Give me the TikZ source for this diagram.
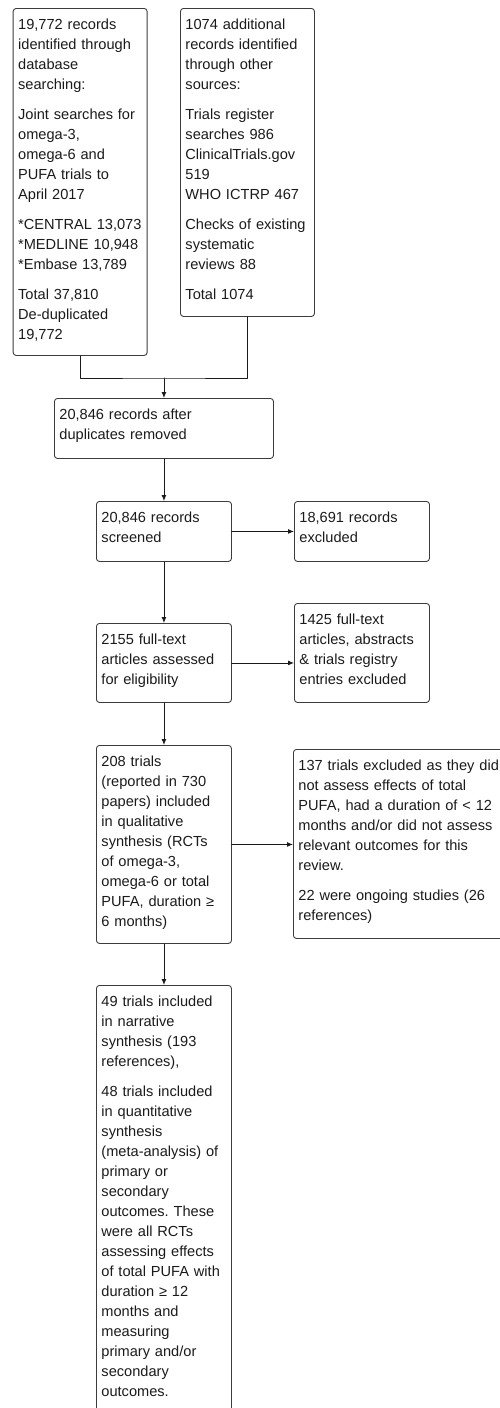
\documentclass[tikz,border=0pt]{standalone}
\usepackage{fontspec}
\setmainfont{Liberation Sans}
\frenchspacing
\usetikzlibrary{arrows.meta,positioning}
\definecolor{FlowGray}{HTML}{3C3C3C}
\definecolor{FlowText}{HTML}{1A1A1A}

\begin{document}
\begin{tikzpicture}[x=1pt,y=-1pt,line cap=round,line join=round,font=\fontsize{14.6}{20}\selectfont,
  flowbox/.style={draw=FlowGray,line width=0.9pt,rounded corners=3pt,anchor=north west,align=left,
    inner xsep=5pt,inner ysep=4pt,text height=17pt,text=FlowText},
  flowline/.style={draw=FlowText,line width=0.9pt},
  flowarrow/.style={flowline,-{Latex[length=6pt,width=5pt]}}]
  \useasboundingbox (0,0) rectangle (499,1408);
  \node[flowbox,text width=124pt,text depth=322pt] (search) at (12.7,8) {19,772 records\\identified through\\database\\searching:\\[10pt]Joint searches for\\omega-3,\\omega-6 and\\PUFA trials to\\April 2017\\[10pt]*CENTRAL 13,073\\{}*MEDLINE 10,948\\{}*Embase 13,789\\[10pt]Total 37,810\\De-duplicated\\19,772};
  \node[flowbox,text width=124pt,text depth=283pt] (other) at (180,8) {1074 additional\\records identified\\through other\\sources:\\[10pt]Trials register\\searches 986\\ClinicalTrials.gov\\519\\WHO ICTRP 467\\[10pt]Checks of existing\\systematic\\reviews 88\\[10pt]Total 1074};
  \node[flowbox,text width=209pt,text depth=35pt] (dedup) at (54,398) {20,846 records after\\duplicates removed};
  \node[flowbox,text width=125pt,text depth=35pt] (screened) at (96,501) {20,846 records\\screened};
  \node[flowbox,text width=125pt,text depth=35pt] (excluded) at (294,501) {18,691 records\\excluded};
  \node[flowbox,text width=125pt,text depth=54pt] (fulltext) at (96,623) {2155 full-text\\articles assessed\\for eligibility};
  \node[flowbox,text width=125pt,text depth=74pt] (ftexcluded) at (294,603) {1425 full-text\\articles, abstracts\\\& trials registry\\entries excluded};
  \node[flowbox,text width=125pt,text depth=173pt] (qualitative) at (96,745) {208 trials\\(reported in 730\\papers) included\\in qualitative\\synthesis (RCTs\\of omega-3,\\omega-6 or total\\PUFA, duration ≥\\6 months)};
  \node[flowbox,text width=220pt,text depth=164pt] (qlexcluded) at (293,749) {137 trials excluded as they did\\not assess effects of total\\PUFA, had a duration of < 12\\months and/or did not assess\\relevant outcomes for this\\review.\\[10pt]22 were ongoing studies (26\\references)};
  \node[flowbox,text width=125pt,text depth=420pt] (narrative) at (96,985) {49 trials included\\in narrative\\synthesis (193\\references),\\[10pt]48 trials included\\in quantitative\\synthesis\\(meta-analysis) of\\primary or\\secondary\\outcomes. These\\were all RCTs\\assessing effects\\of total PUFA with\\duration ≥ 12\\months and\\measuring\\primary and/or\\secondary\\outcomes.};
  \coordinate[above=20pt of dedup.north] (merge);
  \draw[flowline] (search.south) |- (merge) -| (other.south);
  \draw[flowarrow] (merge) -- (dedup.north);
  \draw[flowarrow] (dedup.south) -- (screened.north);
  \draw[flowarrow] (screened.east) -- (excluded.west);
  \draw[flowarrow] (screened.south) -- (fulltext.north);
  \draw[flowarrow] (fulltext.east) -- (fulltext.east -| ftexcluded.west);
  \draw[flowarrow] (fulltext.south) -- (qualitative.north);
  \draw[flowarrow] (qualitative.east) -- (qualitative.east -| qlexcluded.west);
  \draw[flowarrow] (qualitative.south) -- (narrative.north);
\end{tikzpicture}
\end{document}
